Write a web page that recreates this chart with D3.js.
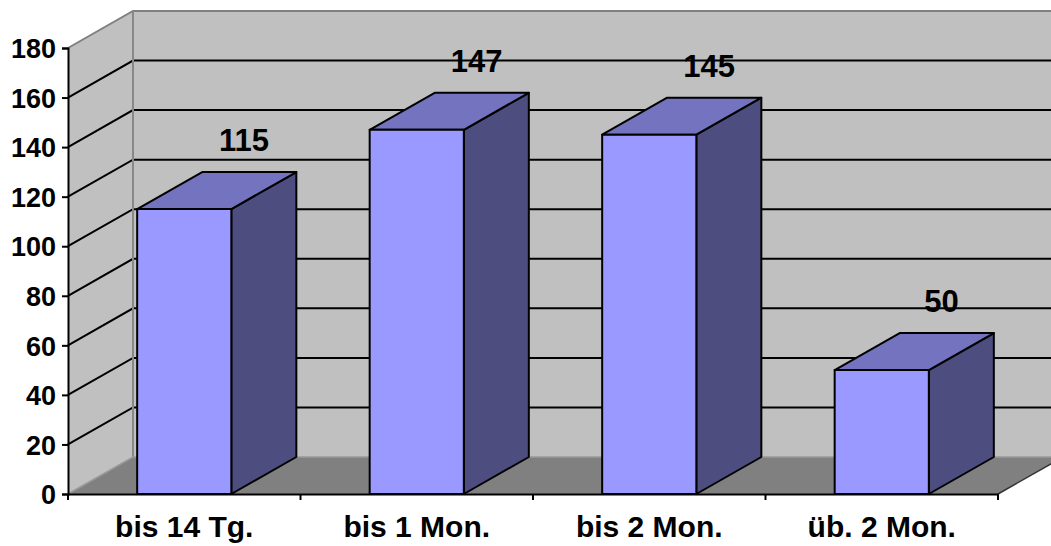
<!DOCTYPE html>
<html>
<head>
<meta charset="utf-8">
<script src="https://cdn.jsdelivr.net/npm/d3@7"></script>
<style>
	body { margin: 0; background: #fff; }
	svg text { font-family: 'Liberation Sans', Arial, sans-serif; font-weight: bold; fill: #000; }
</style>
</head>
<body>
<svg id="chart" width="1051" height="546"></svg>
<script>
// Wartezeit-Kategorien und Anzahl
const categories = ['bis 14 Tg.', 'bis 1 Mon.', 'bis 2 Mon.', 'üb. 2 Mon.']
const values = [115, 147, 145, 50]
const yTicks = [0, 20, 40, 60, 80, 100, 120, 140, 160, 180]

const svg = d3.select('#chart')
const W = 1051

// 3d depth offset (back wall relative to front plane)
const dx = 65
const dy = -37

const x = d3.scaleBand().domain(categories).range([68, 998])
const y = d3.scaleLinear().domain([0, 180]).range([494, 48])
const barW = x.bandwidth() * 0.405

const x0 = x.range()[0]
const x1 = x.range()[1]
const poly = pts => pts.map(p => p.join(',')).join(' ')

// clip everything to the window
svg.append('clipPath').attr('id', 'clip')
	.append('rect').attr('width', W).attr('height', 546)
const g = svg.append('g').attr('clip-path', 'url(#clip)')

// back wall
g.append('polygon')
	.attr('points', poly([[x0 + dx, y(180) + dy], [x1 + dx, y(180) + dy], [x1 + dx, y(0) + dy], [x0 + dx, y(0) + dy]]))
	.attr('fill', '#c0c0c0')
// side wall
g.append('polygon')
	.attr('points', poly([[x0, y(180)], [x0 + dx, y(180) + dy], [x0 + dx, y(0) + dy], [x0, y(0)]]))
	.attr('fill', '#c0c0c0')
// floor
g.append('polygon')
	.attr('points', poly([[x0, y(0)], [x0 + dx, y(0) + dy], [x1 + dx, y(0) + dy], [x1, y(0)]]))
	.attr('fill', '#808080')

// gridlines on back and side wall
const inner = yTicks.filter(v => v > 0 && v < 180)
g.append('g').selectAll('path')
	.data(inner)
	.enter()
	.append('path')
	.attr('d', v => `M${x0},${y(v)}L${x0 + dx},${y(v) + dy}L${x1 + dx},${y(v) + dy}`)
	.attr('fill', 'none')
	.attr('stroke', '#000')
	.attr('stroke-width', 2)

// wall borders
g.append('path')
	.attr('d', `M${x0},${y(180)}L${x0 + dx},${y(180) + dy}L${x1 + dx},${y(180) + dy}`)
	.attr('fill', 'none').attr('stroke', '#808080').attr('stroke-width', 2)
g.append('path')
	.attr('d', `M${x0 + dx},${y(180) + dy}L${x0 + dx},${y(0) + dy}`)
	.attr('fill', 'none').attr('stroke', '#888').attr('stroke-width', 2)
g.append('path')
	.attr('d', `M${x0},${y(0)}L${x0 + dx},${y(0) + dy}L${x1 + dx},${y(0) + dy}`)
	.attr('fill', 'none').attr('stroke', '#999').attr('stroke-width', 1.5)
g.append('path')
	.attr('d', `M${x1},${y(0)}L${x1 + dx},${y(0) + dy}`)
	.attr('fill', 'none').attr('stroke', '#333').attr('stroke-width', 1.5)

// bars
const bars = g.append('g').selectAll('g')
	.data(categories.map((c, i) => ({ c, v: values[i] })))
	.enter()
	.append('g')
	.attr('stroke', '#000')
	.attr('stroke-width', 2)
	.attr('stroke-linejoin', 'round')
bars.each(function (d) {
	const b = d3.select(this)
	const l = x(d.c) + (x.bandwidth() - barW) / 2
	const r = l + barW
	const t = y(d.v)
	const bt = y(0)
	b.append('polygon')
		.attr('points', poly([[r, t], [r + dx, t + dy], [r + dx, bt + dy], [r, bt]]))
		.attr('fill', '#4d4d80')
	b.append('polygon')
		.attr('points', poly([[l, t], [l + dx, t + dy], [r + dx, t + dy], [r, t]]))
		.attr('fill', '#7373bf')
	b.append('rect')
		.attr('x', l).attr('y', t).attr('width', barW).attr('height', bt - t)
		.attr('fill', '#9999ff')
})

// data labels
g.append('g').selectAll('text')
	.data(categories.map((c, i) => ({ c, v: values[i] })))
	.enter()
	.append('text')
	.attr('x', d => x(d.c) + x.bandwidth() / 2 + dx * 0.92)
	.attr('y', d => y(d.v) + dy - 21)
	.attr('text-anchor', 'middle')
	.style('font-size', '31px')
	.text(d => d.v)

// y axis
const yAxis = svg.append('g')
	.attr('transform', `translate(${x0},0)`)
	.call(d3.axisLeft(y).tickValues(yTicks).tickSize(6).tickPadding(6))
yAxis.select('.domain').attr('stroke', '#000').attr('stroke-width', 2)
yAxis.selectAll('.tick line').attr('stroke', '#000').attr('stroke-width', 2)
yAxis.selectAll('.tick text').style('font-size', '27px').attr('dy', '0.36em')

// x axis
const xAxis = svg.append('g')
	.attr('transform', `translate(0,${y(0)})`)
	.call(d3.axisBottom(x).tickSize(0).tickPadding(22))
xAxis.select('.domain').attr('stroke', '#000').attr('stroke-width', 2)
xAxis.selectAll('.tick text').style('font-size', '30px')
xAxis.selectAll('.sep')
	.data(categories.map(c => x(c)).concat([x1]))
	.enter()
	.append('line')
	.attr('class', 'sep')
	.attr('x1', d => d).attr('x2', d => d)
	.attr('y1', 0).attr('y2', 6)
	.attr('stroke', '#000').attr('stroke-width', 2)
</script>
</body>
</html>
